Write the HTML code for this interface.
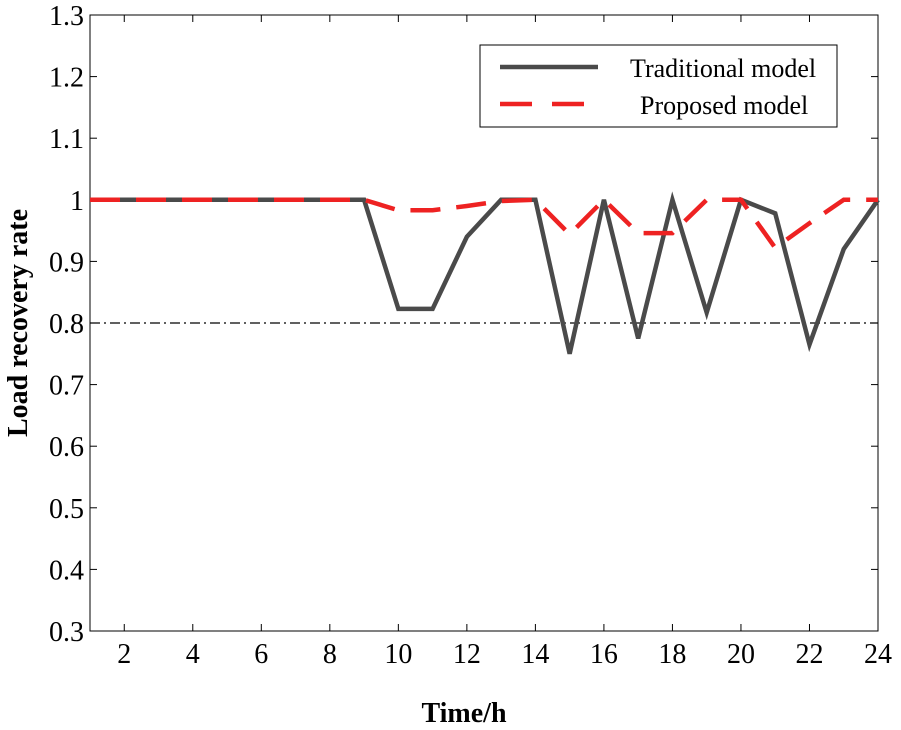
<!DOCTYPE html>
<html><head><meta charset="utf-8"><style>
body{margin:0;background:#fff;}
svg{display:block;font-family:"Liberation Serif",serif;}
</style></head><body>
<svg id="c" width="901" height="730"></svg>
<script>
const hours=[1,2,3,4,5,6,7,8,9,10,11,12,13,14,15,16,17,18,19,20,21,22,23,24];
const traditional=[1,1,1,1,1,1,1,1,1,0.823,0.823,0.94,1,1,0.75,1,0.775,1,0.817,1,0.978,0.765,0.92,1];
const proposed=[1,1,1,1,1,1,1,1,1,0.983,0.983,0.99,0.998,1,0.944,1,0.946,0.946,1,1,0.922,0.962,1,1];
const xTicks=[2,4,6,8,10,12,14,16,18,20,22,24];
const yTicks=[0.3,0.4,0.5,0.6,0.7,0.8,0.9,1,1.1,1.2,1.3];
const yTickLabels=["0.3","0.4","0.5","0.6","0.7","0.8","0.9","1","1.1","1.2","1.3"];
const threshold=0.8;
const L=90,R=878,T=15,B=631;
const X=v=>L+(v-1)/(23)*(R-L);
const Y=v=>B-(v-0.3)/1.0*(B-T);
const s=document.getElementById('c');
const NS='http://www.w3.org/2000/svg';
function el(t,a,p){const e=document.createElementNS(NS,t);for(const k in a)e.setAttribute(k,a[k]);(p||s).appendChild(e);return e;}
let e=el('rect',{x:L,y:T,width:R-L,height:B-T,fill:'none',stroke:'#000','stroke-width':1});


xTicks.forEach(v=>{
 el('line',{x1:X(v),x2:X(v),y1:B,y2:B-7,stroke:'#000'});
 el('line',{x1:X(v),x2:X(v),y1:T,y2:T+7,stroke:'#000'});
 const t=el('text',{x:X(v),y:B+32,'font-size':28,'text-anchor':'middle'});t.textContent=v;
 
 
});
yTicks.forEach((v,i)=>{
 el('line',{x1:L,x2:L+7,y1:Y(v),y2:Y(v),stroke:'#000'});
 el('line',{x1:R,x2:R-7,y1:Y(v),y2:Y(v),stroke:'#000'});
 const t=el('text',{x:L-6,y:Y(v)+10,'font-size':28,'text-anchor':'end'});t.textContent=yTickLabels[i];
 
 
});
e=el('line',{x1:L,x2:R,y1:Y(threshold),y2:Y(threshold),stroke:'#000','stroke-width':1.2,'stroke-dasharray':'10,4,2,4'});


const pts=a=>a.map((v,i)=>X(hours[i])+','+Y(v)).join(' ');
e=el('polyline',{points:pts(traditional),fill:'none',stroke:'#4a4a4a','stroke-width':4.5,'stroke-linejoin':'miter'});


e=el('polyline',{points:pts(proposed),fill:'none',stroke:'#ee2222','stroke-width':4.5,'stroke-dasharray':'30,16'});


const lg=el('g',{});


el('rect',{x:480,y:45,width:357,height:82,fill:'#fff',stroke:'#000'},lg);
el('line',{x1:500,x2:598,y1:67,y2:67,stroke:'#4a4a4a','stroke-width':4.5},lg);
el('line',{x1:500,x2:598,y1:104,y2:104,stroke:'#ee2222','stroke-width':4.5,'stroke-dasharray':'32,20'},lg);
let t=el('text',{x:630,y:77,'font-size':26},lg);t.textContent='Traditional model';
t=el('text',{x:640,y:114,'font-size':26},lg);t.textContent='Proposed model';
t=el('text',{x:464,y:722,'font-size':28,'font-weight':'bold','text-anchor':'middle'});t.textContent='Time/h';


t=el('text',{x:0,y:0,'font-size':28,'font-weight':'bold','text-anchor':'middle',transform:'translate(27,323) rotate(-90)'});t.textContent='Load recovery rate';


</script>
</body></html>
